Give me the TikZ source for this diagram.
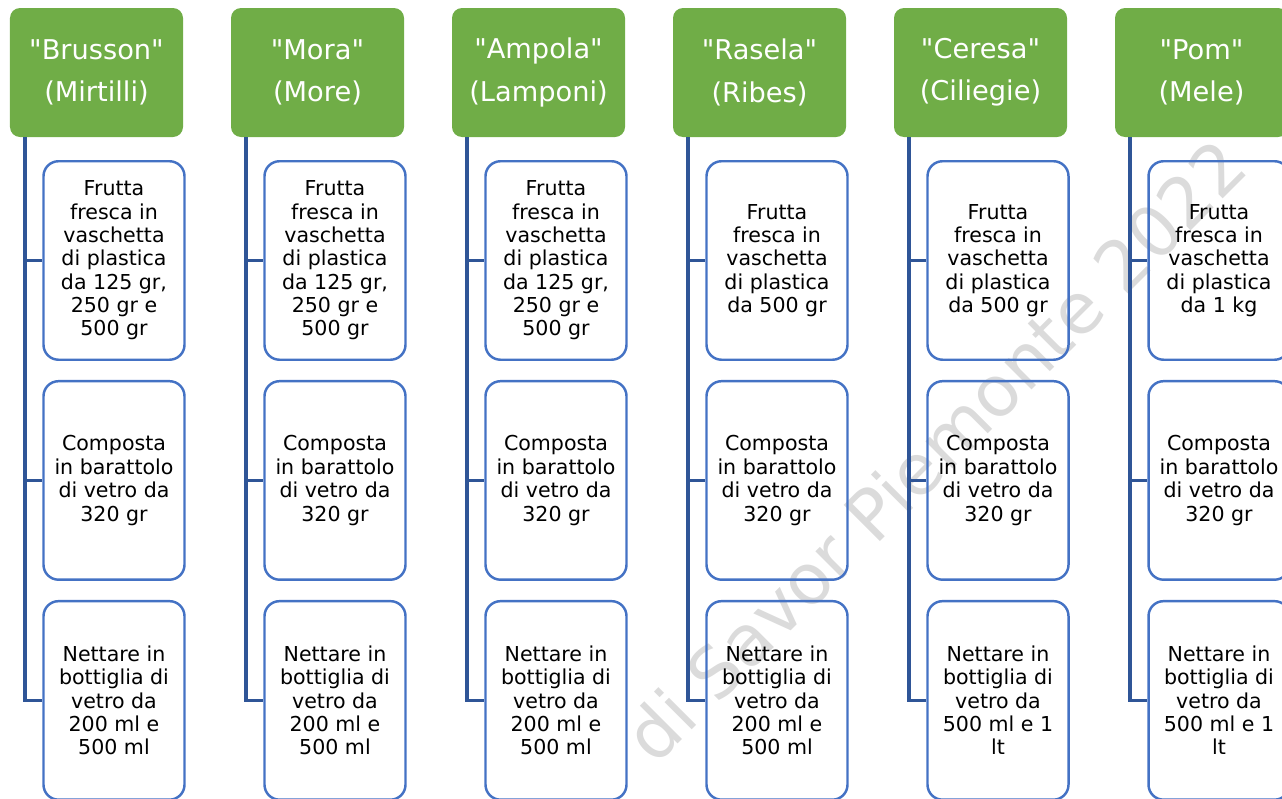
\documentclass[tikz,border=0pt]{standalone}
\usepackage{fontspec}
\setmainfont{DejaVu Sans}[Ligatures=TeXOff]
\usetikzlibrary{positioning}

\definecolor{leafgreen}{RGB}{112,173,71}
\definecolor{boxblue}{RGB}{68,114,196}
\definecolor{linkblue}{RGB}{47,85,151}

\begin{document}
\begin{tikzpicture}[
    node distance=0.38cm,
    head/.style={rectangle, rounded corners=0.2cm, fill=leafgreen, text=white, align=center, minimum width=3.46cm, minimum height=2.58cm, outer sep=0pt, font=\fontsize{15.5}{24}\selectfont},
    item/.style={rectangle, rounded corners=0.3cm, draw=boxblue, line width=1.4pt, align=center, minimum width=2.82cm, minimum height=3.97cm, inner sep=1pt, font=\fontsize{11.7}{13.3}\selectfont},
    link/.style={draw=linkblue, line width=2pt},
    stamp/.style={rotate=45, text=black!14, font=\fontsize{40}{40}\selectfont}
]
\useasboundingbox (0,0) rectangle (25.64,-15.96);
\clip (0,0) rectangle (25.64,-15.96);

% watermark
\node[stamp] (wm) at (18.7,-9.0) {di Savor Piemonte 2022};

% fruit headers
\node[head] (h1) at (1.93,-1.45) {"Brusson"\\(Mirtilli)};
\node[head, right=0.96cm of h1] (h2) {"Mora"\\(More)};
\node[head, right=0.96cm of h2] (h3) {"Ampola"\\(Lamponi)};
\node[head, right=0.96cm of h3] (h4) {"Rasela"\\(Ribes)};
\node[head, right=0.96cm of h4] (h5) {"Ceresa"\\(Ciliegie)};
\node[head, right=0.96cm of h5] (h6) {"Pom"\\(Mele)};

% fresh fruit
\node[item, below=0.46cm of h1, xshift=0.35cm] (f1) {Frutta\\fresca in\\vaschetta\\di plastica\\da 125 gr,\\250 gr e\\500 gr};
\node[item, below=0.46cm of h2, xshift=0.35cm] (f2) {Frutta\\fresca in\\vaschetta\\di plastica\\da 125 gr,\\250 gr e\\500 gr};
\node[item, below=0.46cm of h3, xshift=0.35cm] (f3) {Frutta\\fresca in\\vaschetta\\di plastica\\da 125 gr,\\250 gr e\\500 gr};
\node[item, below=0.46cm of h4, xshift=0.35cm] (f4) {Frutta\\fresca in\\vaschetta\\di plastica\\da 500 gr};
\node[item, below=0.46cm of h5, xshift=0.35cm] (f5) {Frutta\\fresca in\\vaschetta\\di plastica\\da 500 gr};
\node[item, below=0.46cm of h6, xshift=0.35cm] (f6) {Frutta\\fresca in\\vaschetta\\di plastica\\da 1 kg};

% jam
\node[item, below=of f1] (c1) {Composta\\in barattolo\\di vetro da\\320 gr};
\node[item, below=of f2] (c2) {Composta\\in barattolo\\di vetro da\\320 gr};
\node[item, below=of f3] (c3) {Composta\\in barattolo\\di vetro da\\320 gr};
\node[item, below=of f4] (c4) {Composta\\in barattolo\\di vetro da\\320 gr};
\node[item, below=of f5] (c5) {Composta\\in barattolo\\di vetro da\\320 gr};
\node[item, below=of f6] (c6) {Composta\\in barattolo\\di vetro da\\320 gr};

% nectar
\node[item, below=of c1] (n1) {Nettare in\\bottiglia di\\vetro da\\200 ml e\\500 ml};
\node[item, below=of c2] (n2) {Nettare in\\bottiglia di\\vetro da\\200 ml e\\500 ml};
\node[item, below=of c3] (n3) {Nettare in\\bottiglia di\\vetro da\\200 ml e\\500 ml};
\node[item, below=of c4] (n4) {Nettare in\\bottiglia di\\vetro da\\200 ml e\\500 ml};
\node[item, below=of c5] (n5) {Nettare in\\bottiglia di\\vetro da\\500 ml e 1\\lt};
\node[item, below=of c6] (n6) {Nettare in\\bottiglia di\\vetro da\\500 ml e 1\\lt};

% tree lines
\coordinate (r1) at ([xshift=0.3cm]h1.south west);
\coordinate (r2) at ([xshift=0.3cm]h2.south west);
\coordinate (r3) at ([xshift=0.3cm]h3.south west);
\coordinate (r4) at ([xshift=0.3cm]h4.south west);
\coordinate (r5) at ([xshift=0.3cm]h5.south west);
\coordinate (r6) at ([xshift=0.3cm]h6.south west);
\draw[link] (r1) |- (n1.west) (r1 |- f1.west) -- (f1.west) (r1 |- c1.west) -- (c1.west);
\draw[link] (r2) |- (n2.west) (r2 |- f2.west) -- (f2.west) (r2 |- c2.west) -- (c2.west);
\draw[link] (r3) |- (n3.west) (r3 |- f3.west) -- (f3.west) (r3 |- c3.west) -- (c3.west);
\draw[link] (r4) |- (n4.west) (r4 |- f4.west) -- (f4.west) (r4 |- c4.west) -- (c4.west);
\draw[link] (r5) |- (n5.west) (r5 |- f5.west) -- (f5.west) (r5 |- c5.west) -- (c5.west);
\draw[link] (r6) |- (n6.west) (r6 |- f6.west) -- (f6.west) (r6 |- c6.west) -- (c6.west);
\end{tikzpicture}
\end{document}
